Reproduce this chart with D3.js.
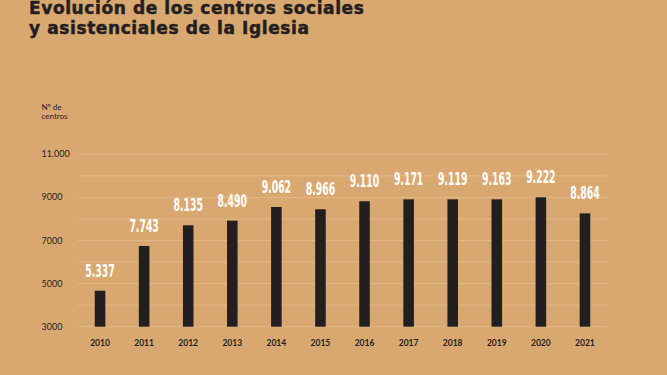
<!DOCTYPE html>
<html>
<head>
<meta charset="utf-8">
<script src="https://cdn.jsdelivr.net/npm/d3@7"></script>
<style>
  html, body { margin: 0; padding: 0; background: #d9a870; }
  svg { display: block; }
</style>
</head>
<body>
<div id="container"></div>
<script>
const BG = '#d9a870';
const INK = '#231f20';

// data
const years = ['2010', '2011', '2012', '2013', '2014', '2015', '2016', '2017', '2018', '2019', '2020', '2021'];
// printed values above each bar
const labels = ['5.337', '7.743', '8.135', '8.490', '9.062', '8.966', '9.110', '9.171', '9.119', '9.163', '9.222', '8.864'];
// bar heights as drawn against the axis
const barValues = [4670, 6745, 7705, 7920, 8555, 8450, 8820, 8910, 8910, 8910, 9005, 8260];
const gridValues = [3000, 4000, 5000, 6000, 7000, 8000, 9000, 10000, 11000];
const tickValues = [3000, 5000, 7000, 9000, 11000];
const tickLabels = ['3000', '5000', '7000', '9000', '11.000'];

const width = 667, height = 375;

const svg = d3.create('svg')
    .attr('width', width)
    .attr('height', height);

svg.append('rect').attr('width', width).attr('height', height).attr('fill', BG);

const x = d3.scaleBand()
    .domain(years)
    .range([78, 607])
    .paddingInner(0.76)
    .paddingOuter(0.38);

const y = d3.scaleLinear()
    .domain([3000, 11000])
    .range([326.7, 154.3]);

// title (top of first line sits at the edge, as in the original)
const title = svg.append('g')
    .attr('font-family', '"DejaVu Sans", sans-serif')
    .attr('font-weight', 'bold')
    .attr('font-size', 17)
    .attr('letter-spacing', 0.6)
    .attr('fill', INK)
    .attr('stroke', INK)
    .attr('stroke-width', 0.5);
title.append('text').attr('x', 29).attr('y', 13.5).text('Evolución de los centros sociales');
title.append('text').attr('x', 29).attr('y', 33.5).text('y asistenciales de la Iglesia');

// axis title
svg.append('text')
    .attr('font-family', 'Lato, sans-serif')
    .attr('font-size', 8)
    .attr('fill', INK)
    .selectAll('tspan').data(['Nº de', 'centros']).enter().append('tspan')
    .attr('x', 41.5)
    .attr('y', (d, i) => 109.5 + i * 9)
    .text(d => d);

// grid
svg.append('g').selectAll('line').data(gridValues).enter().append('line')
    .attr('x1', 78).attr('x2', 607)
    .attr('y1', d => y(d)).attr('y2', d => y(d))
    .attr('stroke', '#e4bd92')
    .attr('stroke-width', 0.8);

// y tick labels
svg.append('g').selectAll('text').data(tickValues).enter().append('text')
    .attr('x', 41.5)
    .attr('y', d => y(d) + 3)
    .attr('font-family', 'Lato, sans-serif')
    .attr('font-size', 9)
    .attr('fill', INK)
    .text((d, i) => tickLabels[i]);

// bars
svg.append('g').selectAll('rect').data(years).enter().append('rect')
    .attr('x', d => x(d))
    .attr('width', x.bandwidth())
    .attr('y', (d, i) => y(barValues[i]))
    .attr('height', (d, i) => y(3000) - y(barValues[i]))
    .attr('fill', INK);

// value labels
svg.append('g').selectAll('text').data(years).enter().append('text')
    .attr('transform', (d, i) => `translate(${x(d) + x.bandwidth() / 2}, ${y(barValues[i]) - 14}) scale(0.56, 1)`)
    .attr('text-anchor', 'middle')
    .attr('font-family', '"Liberation Sans Narrow", "DejaVu Sans Condensed", sans-serif')
    .attr('font-weight', 'bold')
    .attr('font-size', 18.5)
    .attr('fill', 'white')
    .text((d, i) => labels[i]);

// x labels
svg.append('g').selectAll('text').data(years).enter().append('text')
    .attr('x', d => x(d) + x.bandwidth() / 2)
    .attr('y', 345.5)
    .attr('text-anchor', 'middle')
    .attr('font-family', 'Lato, sans-serif')
    .attr('font-weight', 'bold')
    .attr('font-size', 8.5)
    .attr('fill', INK)
    .text(d => d);

container.append(svg.node());
</script>
</body>
</html>
